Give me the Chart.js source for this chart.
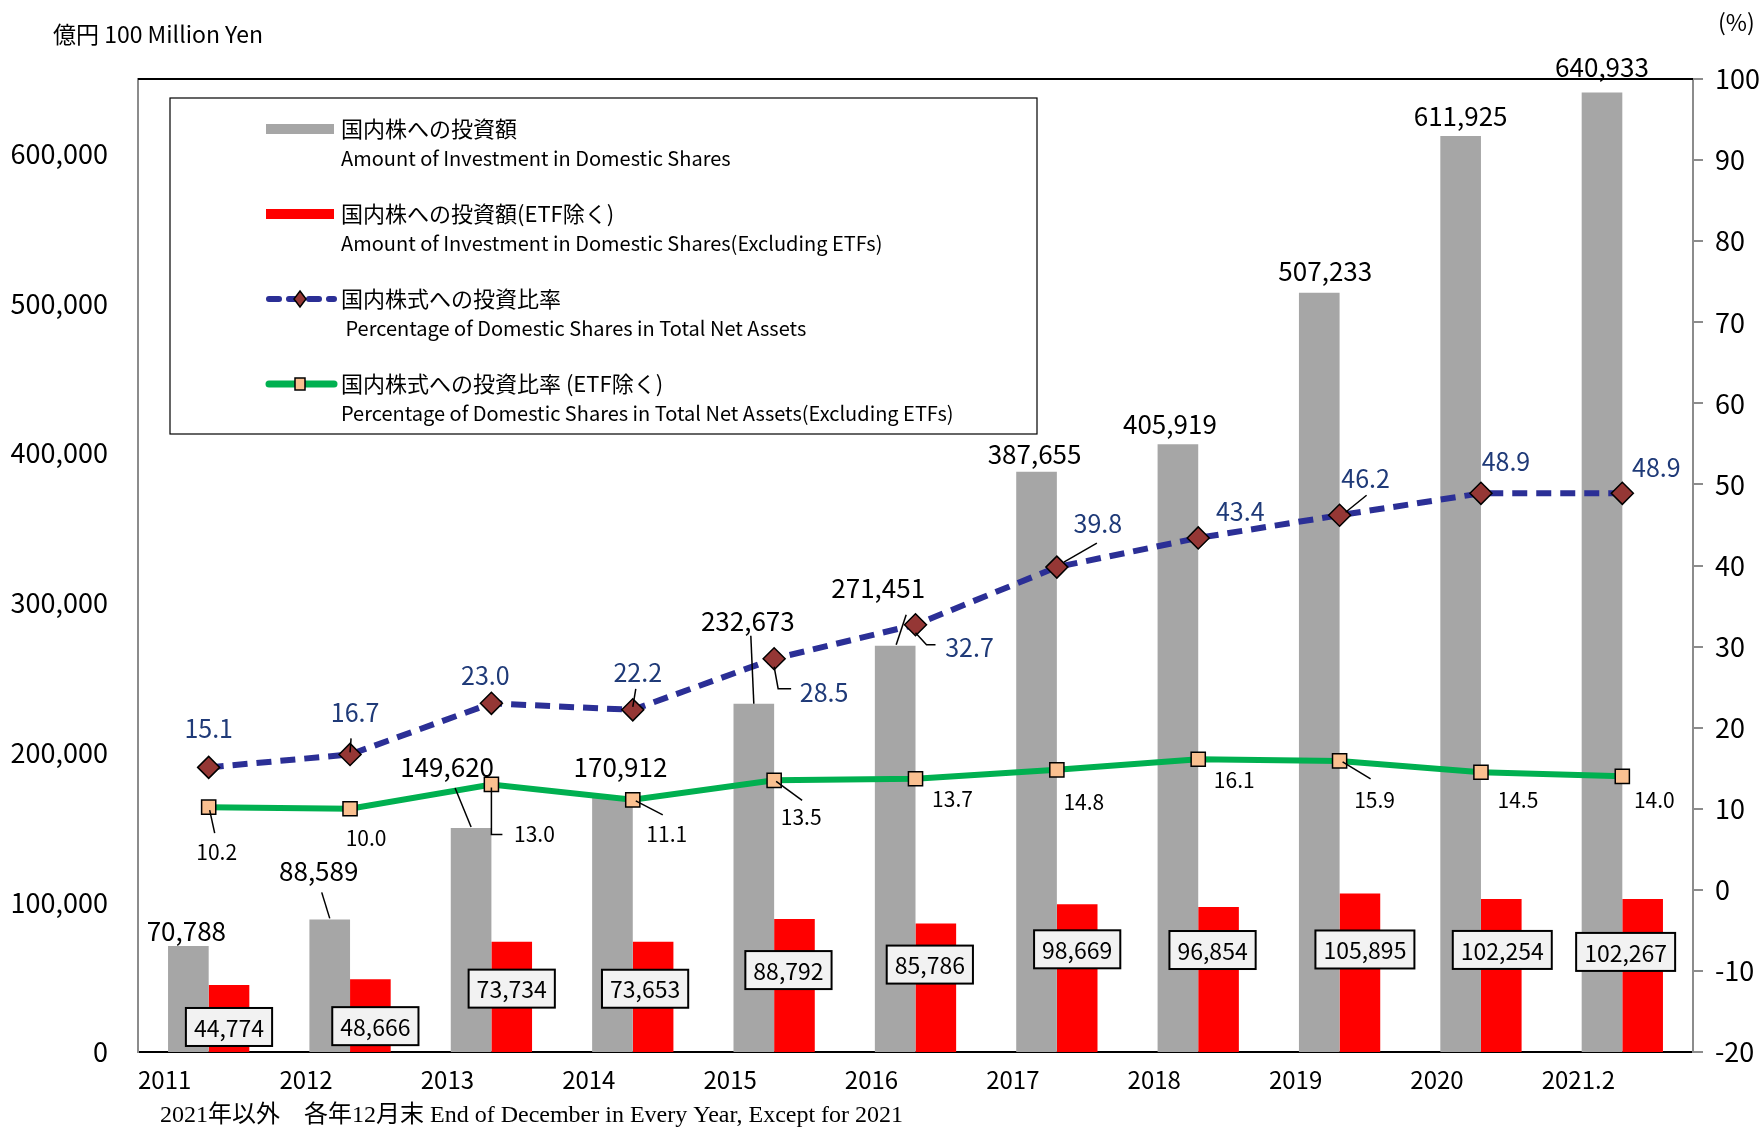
<!DOCTYPE html>
<html lang="ja">
<head>
<meta charset="UTF-8">
<title>国内株への投資額</title>
<script src="https://cdn.jsdelivr.net/npm/chart.js"></script>
<style>
    body { margin: 0; background: #fff; }
    #wrap { width: 1764px; height: 1128px; position: relative; }
</style>
</head>
<body>
<div id="wrap"><canvas id="chart"></canvas></div>
<script>
    const years = ['2011', '2012', '2013', '2014', '2015', '2016', '2017', '2018', '2019', '2020', '2021.2'];
    const amount = [70788, 88589, 149620, 170912, 232673, 271451, 387655, 405919, 507233, 611925, 640933];
    const amountExEtf = [44774, 48666, 73734, 73653, 88792, 85786, 98669, 96854, 105895, 102254, 102267];
    const ratio = [15.1, 16.7, 23.0, 22.2, 28.5, 32.7, 39.8, 43.4, 46.2, 48.9, 48.9];
    const ratioExEtf = [10.2, 10.0, 13.0, 11.1, 13.5, 13.7, 14.8, 16.1, 15.9, 14.5, 14.0];
    const leftTicks = [0, 100000, 200000, 300000, 400000, 500000, 600000];
    const rightTicks = [-20, -10, 0, 10, 20, 30, 40, 50, 60, 70, 80, 90, 100];

    const FONT = '"Liberation Sans Narrow", "Noto Sans CJK JP", sans-serif';

    // label offsets (px) from the mark, plus optional leader lines
    const amountOff = [[-2,-15],[-11,-48],[-24,-61],[8,-29],[-6,-83],[-17,-58],[-2,-18],[-8,-20],[6,-22],[0,-20],[0,-25]];
    const amountLead = {1: [[-8,-27],[0,-1]], 2: [[-16,-40],[0,-1]], 4: [[-3,-68],[0,0]], 5: [[11,-31],[1,-1]]};
    const exEtfOff = [[0,42],[5,47],[0,47],[-8,47],[-6,51],[-6,41],[0,45],[-6,43],[5,56],[1,51],[-17,53]];
    const ratioOff = [[0,-39],[5,-42],[-6,-28],[5,-37],[50,34],[54,23],[41,-44],[42,-26],[26,-37],[25,-32],[34,-26]];
    const ratioLead = {1: [[1,-16],[0,-2]], 3: [[3,-21],[0,-3]], 4: [[0,8],[4,30],[17,30]], 5: [[0,8],[11,20],[20,20]], 6: [[7,-5],[40,-24]], 8: [[6,-3],[27,-20]]};
    const exRatioOff = [[8,45],[16,29],[43,50],[34,34],[27,37],[37,20],[27,32],[36,21],[35,39],[37,28],[32,24]];
    const exRatioLead = {0: [[1,3],[6,26]], 2: [[0,3],[0,50],[11,50]], 3: [[3,1],[30,15]], 4: [[2,1],[28,20]], 8: [[3,1],[31,18]]};

    function leader(ctx, x, y, pts) {
        if (!pts) return;
        ctx.beginPath();
        pts.forEach((p, i) => i ? ctx.lineTo(x + p[0], y + p[1]) : ctx.moveTo(x + p[0], y + p[1]));
        ctx.strokeStyle = '#000';
        ctx.lineWidth = 1.5;
        ctx.setLineDash([]);
        ctx.stroke();
    }

    const extras = {
        id: 'extras',
        afterDatasetsDraw(chart) {
            const ctx = chart.ctx;
            const a = chart.chartArea;
            ctx.save();
            // top edge of the frame
            ctx.strokeStyle = '#000';
            ctx.lineWidth = 2;
            ctx.beginPath();
            ctx.moveTo(a.left, a.top);
            ctx.lineTo(a.right, a.top);
            ctx.stroke();

            ctx.textAlign = 'center';
            ctx.textBaseline = 'middle';

            const grayBars = chart.getDatasetMeta(0).data;
            const redBars = chart.getDatasetMeta(1).data;
            const blue = chart.getDatasetMeta(2).data;
            const green = chart.getDatasetMeta(3).data;

            grayBars.forEach((b, i) => {
                leader(ctx, b.x, b.y, amountLead[i]);
                ctx.fillStyle = '#000';
                ctx.font = '26px ' + FONT;
                ctx.fillText(amount[i].toLocaleString('en-US'), b.x + amountOff[i][0], b.y + amountOff[i][1]);
            });

            redBars.forEach((b, i) => {
                const t = amountExEtf[i].toLocaleString('en-US');
                ctx.font = '23px ' + FONT;
                const w = ctx.measureText(t).width + 16;
                const h = 38;
                const cx = b.x + exEtfOff[i][0], cy = b.y + exEtfOff[i][1];
                ctx.fillStyle = '#F2F2F2';
                ctx.fillRect(cx - w / 2, cy - h / 2, w, h);
                ctx.strokeStyle = '#000';
                ctx.lineWidth = 2;
                ctx.strokeRect(cx - w / 2, cy - h / 2, w, h);
                ctx.fillStyle = '#000';
                ctx.fillText(t, cx, cy + 1);
            });

            blue.forEach((p, i) => {
                leader(ctx, p.x, p.y, ratioLead[i]);
                ctx.fillStyle = '#1F3A78';
                ctx.font = '25px ' + FONT;
                ctx.fillText(ratio[i].toFixed(1), p.x + ratioOff[i][0], p.y + ratioOff[i][1]);
            });

            green.forEach((p, i) => {
                leader(ctx, p.x, p.y, exRatioLead[i]);
                ctx.fillStyle = '#000';
                ctx.font = '21px ' + FONT;
                ctx.fillText(ratioExEtf[i].toFixed(1), p.x + exRatioOff[i][0], p.y + exRatioOff[i][1]);
            });
            ctx.restore();
        },
        afterDraw(chart) {
            const ctx = chart.ctx;
            ctx.save();
            // titles
            ctx.fillStyle = '#000';
            ctx.textBaseline = 'middle';
            ctx.textAlign = 'left';
            ctx.font = '23px ' + FONT;
            ctx.fillText('億円 100 Million Yen', 53, 34);
            ctx.fillText('(%)', 1718, 22);
            ctx.font = '24px "Liberation Serif", "Noto Sans CJK JP", serif';
            ctx.fillText('2021年以外　各年12月末 End of December in Every Year, Except for 2021', 160, 1116);

            // legend box
            ctx.fillStyle = '#fff';
            ctx.fillRect(170, 98, 867, 336);
            ctx.strokeStyle = '#000';
            ctx.lineWidth = 1.2;
            ctx.strokeRect(170, 98, 867, 336);

            const rows = [
                ['国内株への投資額', 'Amount of Investment in Domestic Shares', 'gray'],
                ['国内株への投資額(ETF除く)', 'Amount of Investment in Domestic Shares(Excluding ETFs)', 'red'],
                ['国内株式への投資比率', ' Percentage of Domestic Shares in Total Net Assets', 'blue'],
                ['国内株式への投資比率 (ETF除く)', 'Percentage of Domestic Shares in Total Net Assets(Excluding ETFs)', 'green']
            ];
            rows.forEach((r, i) => {
                const y1 = 129 + i * 85, y2 = 158 + i * 85;
                const x0 = 266, x1 = 334, xm = 300;
                if (r[2] === 'gray' || r[2] === 'red') {
                    ctx.fillStyle = r[2] === 'gray' ? '#A6A6A6' : '#FF0000';
                    ctx.fillRect(x0, y1 - 5, x1 - x0, 10);
                } else if (r[2] === 'blue') {
                    ctx.strokeStyle = '#2B2F96';
                    ctx.lineWidth = 6;
                    ctx.lineCap = 'round';
                    ctx.setLineDash([10, 10]);
                    ctx.beginPath();
                    ctx.moveTo(x0 + 3, y1);
                    ctx.lineTo(x1, y1);
                    ctx.stroke();
                    ctx.setLineDash([]);
                    ctx.lineCap = 'butt';
                    ctx.beginPath();
                    ctx.moveTo(xm, y1 - 8); ctx.lineTo(xm + 6, y1); ctx.lineTo(xm, y1 + 8); ctx.lineTo(xm - 6, y1);
                    ctx.closePath();
                    ctx.fillStyle = '#953735';
                    ctx.fill();
                    ctx.strokeStyle = '#000';
                    ctx.lineWidth = 1.5;
                    ctx.stroke();
                } else {
                    ctx.strokeStyle = '#00B050';
                    ctx.lineWidth = 7;
                    ctx.lineCap = 'round';
                    ctx.beginPath();
                    ctx.moveTo(x0 + 3, y1);
                    ctx.lineTo(x1, y1);
                    ctx.stroke();
                    ctx.lineCap = 'butt';
                    ctx.fillStyle = '#FAC090';
                    ctx.fillRect(xm - 5, y1 - 6, 10, 12);
                    ctx.strokeStyle = '#000';
                    ctx.lineWidth = 1.5;
                    ctx.strokeRect(xm - 5, y1 - 6, 10, 12);
                }
                ctx.fillStyle = '#000';
                ctx.font = '22px ' + FONT;
                ctx.fillText(r[0], 341, y1);
                ctx.font = '20px ' + FONT;
                ctx.fillText(r[1], 341, y2);
            });
            ctx.restore();
        }
    };

    new Chart(document.getElementById('chart'), {
        data: {
            labels: years,
            datasets: [
                {
                    type: 'bar', label: '国内株への投資額', data: amount, yAxisID: 'y',
                    backgroundColor: '#A6A6A6', order: 2,
                    categoryPercentage: 0.575, barPercentage: 1.0
                },
                {
                    type: 'bar', label: '国内株への投資額(ETF除く)', data: amountExEtf, yAxisID: 'y',
                    backgroundColor: '#FF0000', order: 2,
                    categoryPercentage: 0.575, barPercentage: 1.0
                },
                {
                    type: 'line', label: '国内株式への投資比率', data: ratio, yAxisID: 'y1',
                    borderColor: '#2B2F96', borderWidth: 6, borderDash: [15, 9],
                    pointStyle: 'rectRot', pointRadius: 11, pointBackgroundColor: '#953735',
                    pointBorderColor: '#000', pointBorderWidth: 1.5, tension: 0, order: 0
                },
                {
                    type: 'line', label: '国内株式への投資比率 (ETF除く)', data: ratioExEtf, yAxisID: 'y1',
                    borderColor: '#00B050', borderWidth: 6,
                    pointStyle: 'rect', pointRadius: 10, pointBackgroundColor: '#FAC090',
                    pointBorderColor: '#000', pointBorderWidth: 1.5, tension: 0, order: 1
                }
            ]
        },
        options: {
            responsive: true,
            maintainAspectRatio: false,
            animation: false,
            layout: { padding: { top: 79, left: 0, right: 0, bottom: 0 } },
            plugins: {
                legend: { display: false },
                tooltip: { enabled: false }
            },
            scales: {
                x: {
                    grid: { display: false, drawTicks: false },
                    border: { display: true, color: '#000', width: 2 },
                    ticks: { color: '#000', font: { family: FONT, size: 24 }, labelOffset: -44, padding: 13, maxRotation: 0 },
                    afterFit: s => { s.height = 76; }
                },
                y: {
                    position: 'left', min: 0, max: 650000,
                    grid: { display: false, drawTicks: false },
                    border: { display: true, color: '#8C8C8C', width: 2 },
                    ticks: { color: '#000', font: { family: FONT, size: 27 }, padding: 30,
                        callback: v => v.toLocaleString('en-US') },
                    afterBuildTicks: s => { s.ticks = leftTicks.map(v => ({ value: v })); },
                    afterFit: s => { s.width = 138; }
                },
                y1: {
                    position: 'right', min: -20, max: 100,
                    grid: { drawOnChartArea: false, drawTicks: true, tickLength: 10, color: '#8C8C8C', lineWidth: 2 },
                    border: { display: true, color: '#8C8C8C', width: 2 },
                    ticks: { color: '#000', font: { family: FONT, size: 27 }, padding: 12 },
                    afterBuildTicks: s => { s.ticks = rightTicks.map(v => ({ value: v })); },
                    afterFit: s => { s.width = 71; }
                }
            }
        },
        plugins: [extras]
    });
</script>
</body>
</html>
